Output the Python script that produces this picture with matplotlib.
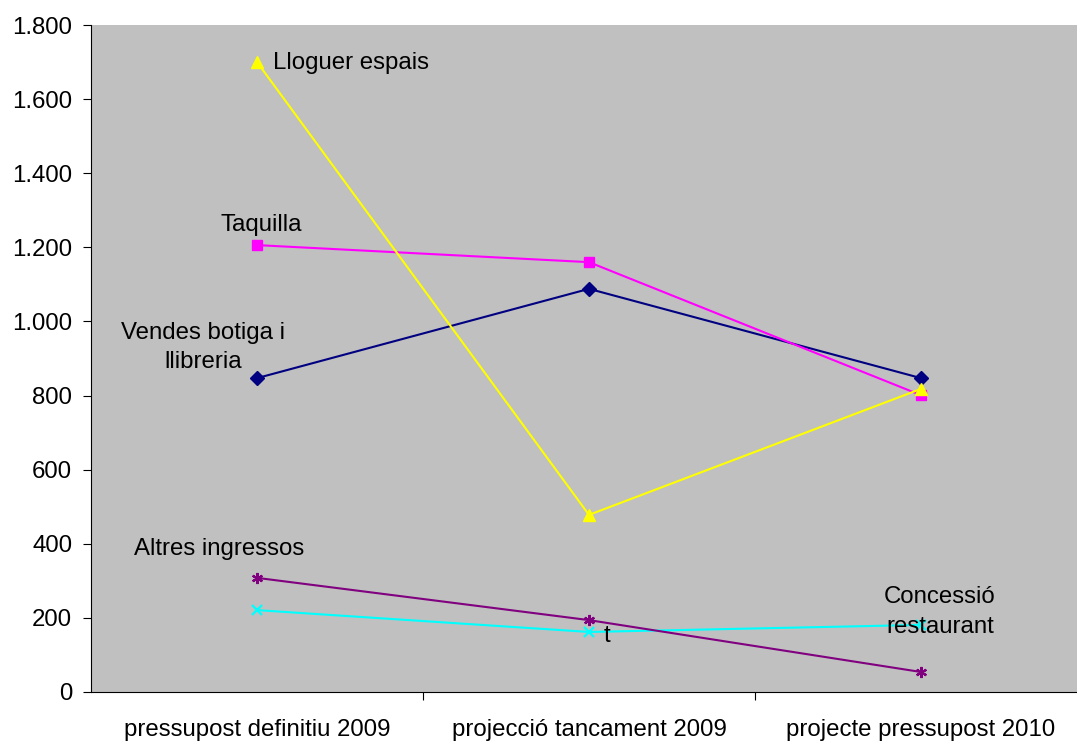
import matplotlib.pyplot as plt
from matplotlib.ticker import FuncFormatter

plt.rcParams['font.family'] = ['Liberation Sans', 'DejaVu Sans']

# Dades
categories = ["pressupost definitiu 2009", "projecció tancament 2009", "projecte pressupost 2010"]
vendes = [847, 1088, 847]
taquilla = [1206, 1160, 801]
lloguer = [1700, 478, 818]
altres = [308, 194, 54]
concessio = [221, 162, 181]

fig = plt.figure(figsize=(10.77, 7.42), dpi=100)
ax = fig.add_axes([91 / 1077, 50 / 742, 996 / 1077, 667 / 742])
ax.set_facecolor("#C0C0C0")

x = [0.5, 1.5, 2.5]
ax.plot(x, concessio, color="#00FFFF", marker="x", markersize=7, mew=1.6, lw=1.5, zorder=3)
ax.plot(x, altres, color="#800080", marker=(6, 2, 0), markersize=8, mew=1.6, lw=1.5, zorder=3)
ax.plot(x, vendes, color="#000080", marker="D", markersize=7, lw=1.5, zorder=4)
ax.plot(x, taquilla, color="#FF00FF", marker="s", markersize=7, lw=1.5, zorder=4)
ax.plot(x, lloguer, color="#FFFF00", marker="^", markersize=8, lw=1.5, zorder=5)

# Etiquetes de sèrie
fs = 17.3
ax.text(0.548, 1697, "Lloguer espais", fontsize=fs, va="center", ha="left")
ax.text(0.512, 1260, "Taquilla", fontsize=fs, va="center", ha="center")
ax.text(0.338, 930, "Vendes botiga i\nllibreria", fontsize=fs, va="center", ha="center", linespacing=1.45)
ax.text(0.386, 385, "Altres ingressos", fontsize=fs, va="center", ha="center")
ax.text(1.545, 150, "t", fontsize=fs, va="center", ha="left")
ax.text(2.557, 216, "Concessió\nrestaurant", fontsize=fs, va="center", ha="center", linespacing=1.45)

ax.set_xlim(0, 3)
ax.set_ylim(0, 1800)
ax.set_yticks(range(0, 1801, 200))
ax.yaxis.set_major_formatter(FuncFormatter(lambda v, p: f"{int(v):,}".replace(",", ".")))
ax.set_xticks([1, 2])
ax.set_xticklabels([])
ax.set_xticks(x, minor=True)
ax.set_xticklabels(categories, minor=True)
ax.tick_params(axis="x", which="minor", length=0, pad=19.5, labelsize=fs)
ax.tick_params(axis="x", which="major", direction="out", length=6, color="black")
ax.tick_params(axis="y", direction="out", length=6, labelsize=fs, pad=7.5)

for s in ["top", "right"]:
    ax.spines[s].set_visible(False)
ax.spines["left"].set_color("black")
ax.spines["bottom"].set_color("black")

fig.savefig("out.png", dpi=100)
